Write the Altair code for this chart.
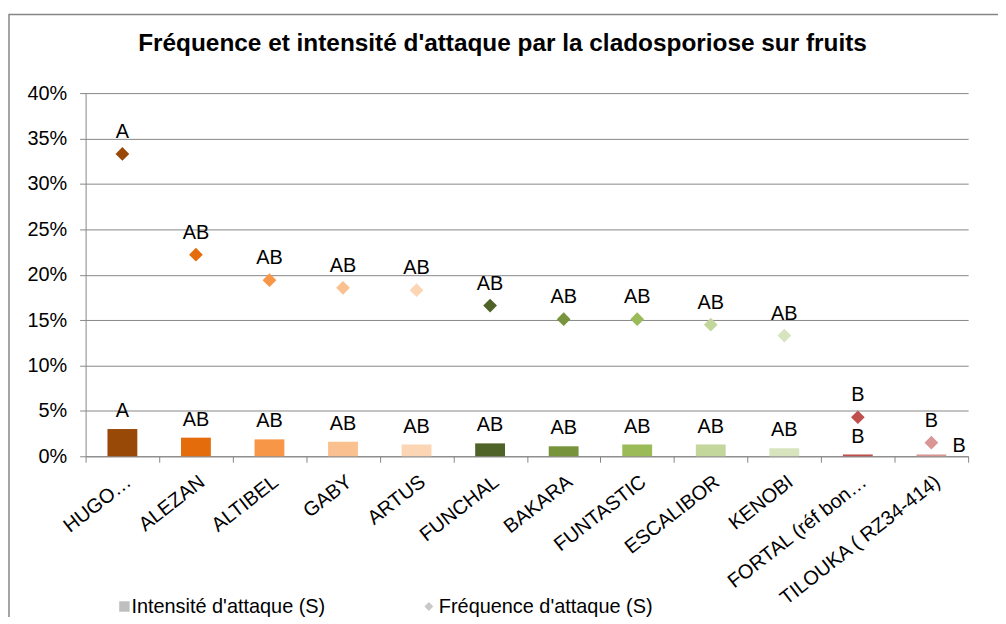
import altair as alt
import pandas as pd

# ---- data ----
varieties = ["HUGO…", "ALEZAN", "ALTIBEL", "GABY", "ARTUS", "FUNCHAL", "BAKARA",
             "FUNTASTIC", "ESCALIBOR", "KENOBI", "FORTAL (réf bon…", "TILOUKA ( RZ34-414)"]
intensity = [0.030, 0.0205, 0.0186, 0.016, 0.013, 0.0142, 0.011, 0.013, 0.013, 0.0088, 0.002, 0.002]
frequency = [0.333, 0.222, 0.194, 0.1855, 0.183, 0.166, 0.151, 0.151, 0.145, 0.133, 0.043, 0.015]
intensity_groups = ["A", "AB", "AB", "AB", "AB", "AB", "AB", "AB", "AB", "AB", "B", "B"]
frequency_groups = ["A", "AB", "AB", "AB", "AB", "AB", "AB", "AB", "AB", "AB", "B", "B"]
y_ticks = [0, 0.05, 0.10, 0.15, 0.20, 0.25, 0.30, 0.35, 0.40]
title_text = "Fréquence et intensité d'attaque par la cladosporiose sur fruits"
legend_labels = ["Intensité d'attaque (S)", "Fréquence d'attaque (S)"]

# ---- styles ----
colors = ["#984807", "#E46C0A", "#F79646", "#FAC090", "#FCD5B5", "#4F6228",
          "#77933C", "#9BBB59", "#C3D69B", "#D7E4BD", "#C0504D", "#D99694"]
FONT = "Liberation Sans"
GRAY = "#868686"

df = pd.DataFrame({
    "variete": varieties,
    "intensite": intensity,
    "frequence": frequency,
    "g_int": intensity_groups,
    "g_freq": frequency_groups,
})

x_enc = alt.X(
    "variete:N", sort=varieties,
    scale=alt.Scale(paddingInner=0, paddingOuter=0),
    axis=alt.Axis(title=None, labelAngle=-38, labelAlign="right", labelBaseline="middle",
                  labelFont=FONT, labelFontSize=20, labelColor="black", labelOffset=6,
                  labelPadding=17, domainColor=GRAY, tickColor=GRAY, tickSize=6,
                  tickBand="extent", grid=False, labelOverlap=False, labelLimit=400),
)

def y_enc(field):
    return alt.Y(
        f"{field}:Q",
        scale=alt.Scale(domain=[0, 0.4], nice=False),
        axis=alt.Axis(title=None, format=".0%", values=y_ticks, grid=True, gridColor=GRAY,
                      gridWidth=1, domainColor=GRAY, tickColor=GRAY, tickSize=6,
                      labelPadding=13, labelFont=FONT, labelFontSize=20, labelColor="black"),
    )

color_enc = alt.Color("variete:N", scale=alt.Scale(domain=varieties, range=colors), legend=None)

base = alt.Chart(df)

bars = base.mark_bar(size=30).encode(x=x_enc, y=y_enc("intensite"), color=color_enc)

bar_text = base.transform_filter(alt.datum.variete != varieties[-1]).mark_text(
    font=FONT, fontSize=20, baseline="alphabetic", dy=-12, color="black"
).encode(x=x_enc, y=y_enc("intensite"), text="g_int:N")

bar_text_last = base.transform_filter(alt.datum.variete == varieties[-1]).mark_text(
    font=FONT, fontSize=20, baseline="alphabetic", dx=28, dy=-2, color="black"
).encode(x=x_enc, y=y_enc("intensite"), text="g_int:N")

points = base.mark_point(shape="diamond", filled=True, size=190, opacity=1).encode(
    x=x_enc, y=y_enc("frequence"), color=color_enc)

point_text = base.mark_text(
    font=FONT, fontSize=20, baseline="alphabetic", dy=-16, color="black"
).encode(x=x_enc, y=y_enc("frequence"), text="g_freq:N")

one = alt.Chart(pd.DataFrame({"t": [title_text]}))

title = one.mark_text(font=FONT, fontSize=24.5, fontWeight="bold", align="center",
                      baseline="alphabetic", color="black").encode(
    text="t:N", x=alt.value(419), y=alt.value(-42))

frame = one.mark_rect(fill="white", fillOpacity=0, stroke=GRAY, strokeWidth=1.5).encode(
    x=alt.value(-77), x2=alt.value(1000), y=alt.value(-79), y2=alt.value(700))

leg = alt.Chart(pd.DataFrame({"lab": legend_labels}))
leg_sq = leg.transform_filter(alt.datum.lab == legend_labels[0]).mark_square(
    size=110, color="#BFBFBF", opacity=1).encode(x=alt.value(39), y=alt.value(516))
leg_di = leg.transform_filter(alt.datum.lab == legend_labels[1]).mark_point(
    shape="diamond", filled=True, size=80, color="#C8C8C8", opacity=1).encode(
    x=alt.value(345), y=alt.value(516))
leg_t1 = leg.transform_filter(alt.datum.lab == legend_labels[0]).mark_text(
    font=FONT, fontSize=20, align="left", baseline="middle", color="black").encode(
    text="lab:N", x=alt.value(46), y=alt.value(517))
leg_t2 = leg.transform_filter(alt.datum.lab == legend_labels[1]).mark_text(
    font=FONT, fontSize=20, align="left", baseline="middle", color="black").encode(
    text="lab:N", x=alt.value(355), y=alt.value(517))

chart = alt.layer(
    frame, bars, bar_text, bar_text_last, points, point_text, title,
    leg_sq, leg_di, leg_t1, leg_t2,
).resolve_scale(y="shared").properties(
    width=887, height=365,
    autosize=alt.AutoSizeParams(type="none"),
    padding={"left": 78, "top": 84, "right": 30, "bottom": 160},
    background="white",
).configure_view(stroke=None)

chart.save("out.html", embed_options={"renderer": "svg", "actions": False})
